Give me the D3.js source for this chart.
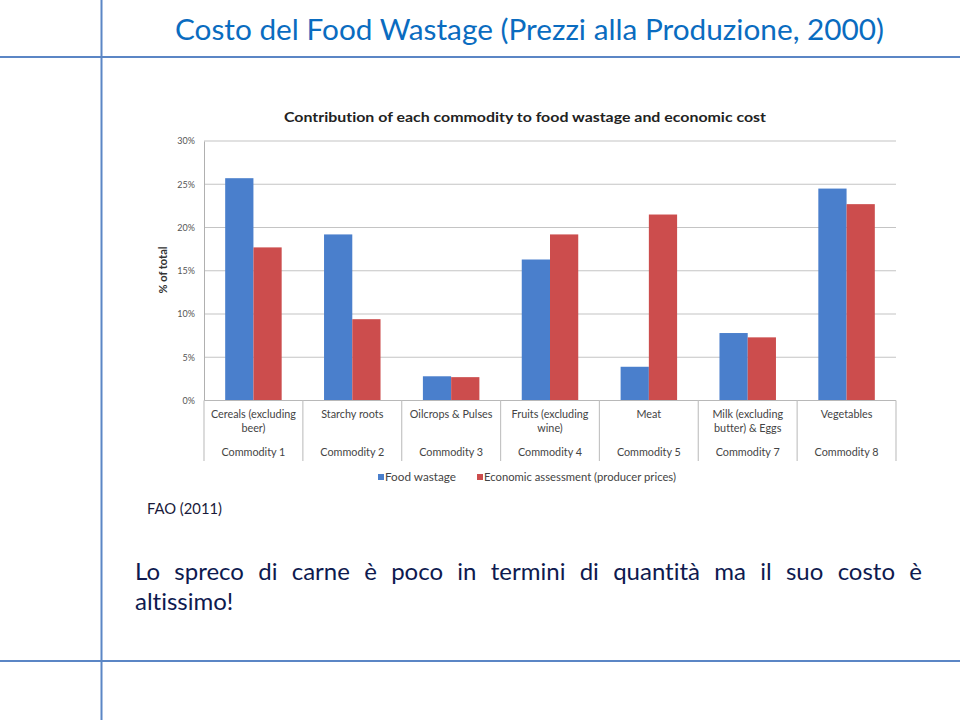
<!DOCTYPE html>
<html lang="it">
<head>
<meta charset="UTF-8">
<title>Costo del Food Wastage</title>
<script src="https://d3js.org/d3.v7.min.js"></script>
<style>
  body { margin: 0; background: #fff; }
  svg { display: block; }
  text { font-variant-ligatures: none; }
</style>
</head>
<body>
<svg width="960" height="720"></svg>
<script>
// data
const categories = ["Cereals (excluding|beer)", "Starchy roots", "Oilcrops & Pulses",
  "Fruits (excluding|wine)", "Meat", "Milk (excluding|butter) & Eggs", "Vegetables"];
const commodities = ["Commodity 1", "Commodity 2", "Commodity 3", "Commodity 4",
  "Commodity 5", "Commodity 7", "Commodity 8"];
const seriesNames = ["Food wastage", "Economic assessment (producer prices)"];
const foodWastage = [25.7, 19.2, 2.8, 16.3, 3.9, 7.8, 24.5];
const economicCost = [17.7, 9.4, 2.7, 19.2, 21.5, 7.3, 22.7];
const yTicks = [0, 5, 10, 15, 20, 25, 30];

const colors = ["#4a7fcc", "#cc4d4d"];
const svg = d3.select("svg");

// slide frame lines
const frame = "#5b86c5";
svg.append("line").attr("x1", 101.5).attr("x2", 101.5).attr("y1", 0).attr("y2", 720)
  .attr("stroke", frame).attr("stroke-width", 2);
svg.append("line").attr("x1", 0).attr("x2", 960).attr("y1", 57).attr("y2", 57)
  .attr("stroke", frame).attr("stroke-width", 2);
svg.append("line").attr("x1", 0).attr("x2", 960).attr("y1", 661).attr("y2", 661)
  .attr("stroke", frame).attr("stroke-width", 2);

// slide title
svg.append("text").attr("x", 175).attr("y", 40)
  .attr("textLength", 709).attr("lengthAdjust", "spacingAndGlyphs")
  .style("font-family", "Lato, sans-serif").style("font-size", "28px")
  .attr("fill", "#0a6cc0")
  .text("Costo del Food Wastage (Prezzi alla Produzione, 2000)");

// chart
const x0 = d3.scaleBand().domain(categories).range([204, 896]).paddingInner(0);
const x1 = d3.scaleBand().domain(seriesNames).range([0, x0.bandwidth()])
  .paddingInner(0).paddingOuter(0.75);
const y = d3.scaleLinear().domain([0, 30]).range([400.5, 141]);

const chartFont = "Lato, 'Open Sans', sans-serif";

svg.append("text").attr("x", 284).attr("y", 122)
  .attr("textLength", 482).attr("lengthAdjust", "spacingAndGlyphs")
  .style("font-family", chartFont).style("font-weight", "bold").style("font-size", "14px")
  .attr("fill", "#222")
  .text("Contribution of each commodity to food wastage and economic cost");

// gridlines
svg.append("g").selectAll("line").data(yTicks.slice(1)).join("line")
  .attr("x1", 204).attr("x2", 896)
  .attr("y1", d => y(d)).attr("y2", d => y(d))
  .attr("stroke", "#c4c4c4").attr("stroke-width", 1.2);

// y axis
const yAxis = svg.append("g").attr("transform", "translate(204,0)")
  .call(d3.axisLeft(y).tickValues(yTicks).tickFormat(d => d + "%").tickSize(0).tickPadding(9));
yAxis.select(".domain").attr("stroke", "#b0b0b0");
yAxis.selectAll("text").style("font-family", chartFont).style("font-size", "9px").attr("fill", "#555");

svg.append("text")
  .attr("transform", "translate(167,270) rotate(-90)")
  .attr("text-anchor", "middle")
  .style("font-family", chartFont).style("font-weight", "bold").style("font-size", "11px")
  .attr("fill", "#333").text("% of total");

// bars
const rows = categories.map((c, i) => ({ cat: c, vals: [foodWastage[i], economicCost[i]] }));
svg.append("g").selectAll("g").data(rows).join("g")
  .attr("transform", d => `translate(${x0(d.cat)},0)`)
  .selectAll("rect").data(d => d.vals.map((v, j) => ({ key: seriesNames[j], v, j }))).join("rect")
  .attr("x", d => x1(d.key)).attr("width", x1.bandwidth())
  .attr("y", d => y(d.v)).attr("height", d => y(0) - y(d.v))
  .attr("fill", d => colors[d.j]);

// x axis line and separators
svg.append("line").attr("x1", 204).attr("x2", 896).attr("y1", y(0)).attr("y2", y(0))
  .attr("stroke", "#b8b8b8");
const bounds = categories.map(c => x0(c)).concat([x0.range()[1]]);
svg.append("g").selectAll("line").data(bounds).join("line")
  .attr("x1", d => d).attr("x2", d => d).attr("y1", y(0)).attr("y2", 461)
  .attr("stroke", "#c4c4c4").attr("stroke-width", 1.2);

const labelG = svg.append("g").style("font-family", chartFont).style("font-size", "10.8px")
  .attr("fill", "#444").attr("text-anchor", "middle");
categories.forEach((c, i) => {
  const cx = x0(c) + x0.bandwidth() / 2;
  c.split("|").forEach((line, k) => {
    labelG.append("text").attr("x", cx).attr("y", 418 + k * 14).text(line);
  });
  labelG.append("text").attr("x", cx).attr("y", 456).text(commodities[i]);
});

// legend
const legendX = [378, 477];
const legendLen = [71, 192];
const legend = svg.append("g").style("font-family", chartFont).style("font-size", "10.5px").attr("fill", "#444");
seriesNames.forEach((s, i) => {
  legend.append("rect").attr("x", legendX[i]).attr("y", 474).attr("width", 6).attr("height", 6)
    .attr("fill", colors[i]);
  legend.append("text").attr("x", legendX[i] + 7).attr("y", 481)
    .attr("textLength", legendLen[i]).attr("lengthAdjust", "spacingAndGlyphs").text(s);
});

// source and comment
const slideFont = "Lato, 'Open Sans', sans-serif";
svg.append("text").attr("x", 147).attr("y", 514)
  .attr("textLength", 75).attr("lengthAdjust", "spacingAndGlyphs")
  .style("font-family", slideFont).style("font-size", "14.5px").attr("fill", "#1a1a3a")
  .text("FAO (2011)");

// justified first line: spread the words between x=135 and x=922
const noteWords = "Lo spreco di carne è poco in termini di quantità ma il suo costo è".split(" ");
const noteG = svg.append("g").style("font-family", slideFont).style("font-size", "24px").attr("fill", "#0e1a4f");
const wordNodes = noteWords.map(w => noteG.append("text").attr("y", 580).text(w));
const widths = wordNodes.map(n => n.node().getComputedTextLength());
const gap = (922 - 135 - d3.sum(widths)) / (noteWords.length - 1);
let cursor = 135;
wordNodes.forEach((n, i) => { n.attr("x", cursor); cursor += widths[i] + gap; });
noteG.append("text").attr("x", 135).attr("y", 610).text("altissimo!");
</script>
</body>
</html>
